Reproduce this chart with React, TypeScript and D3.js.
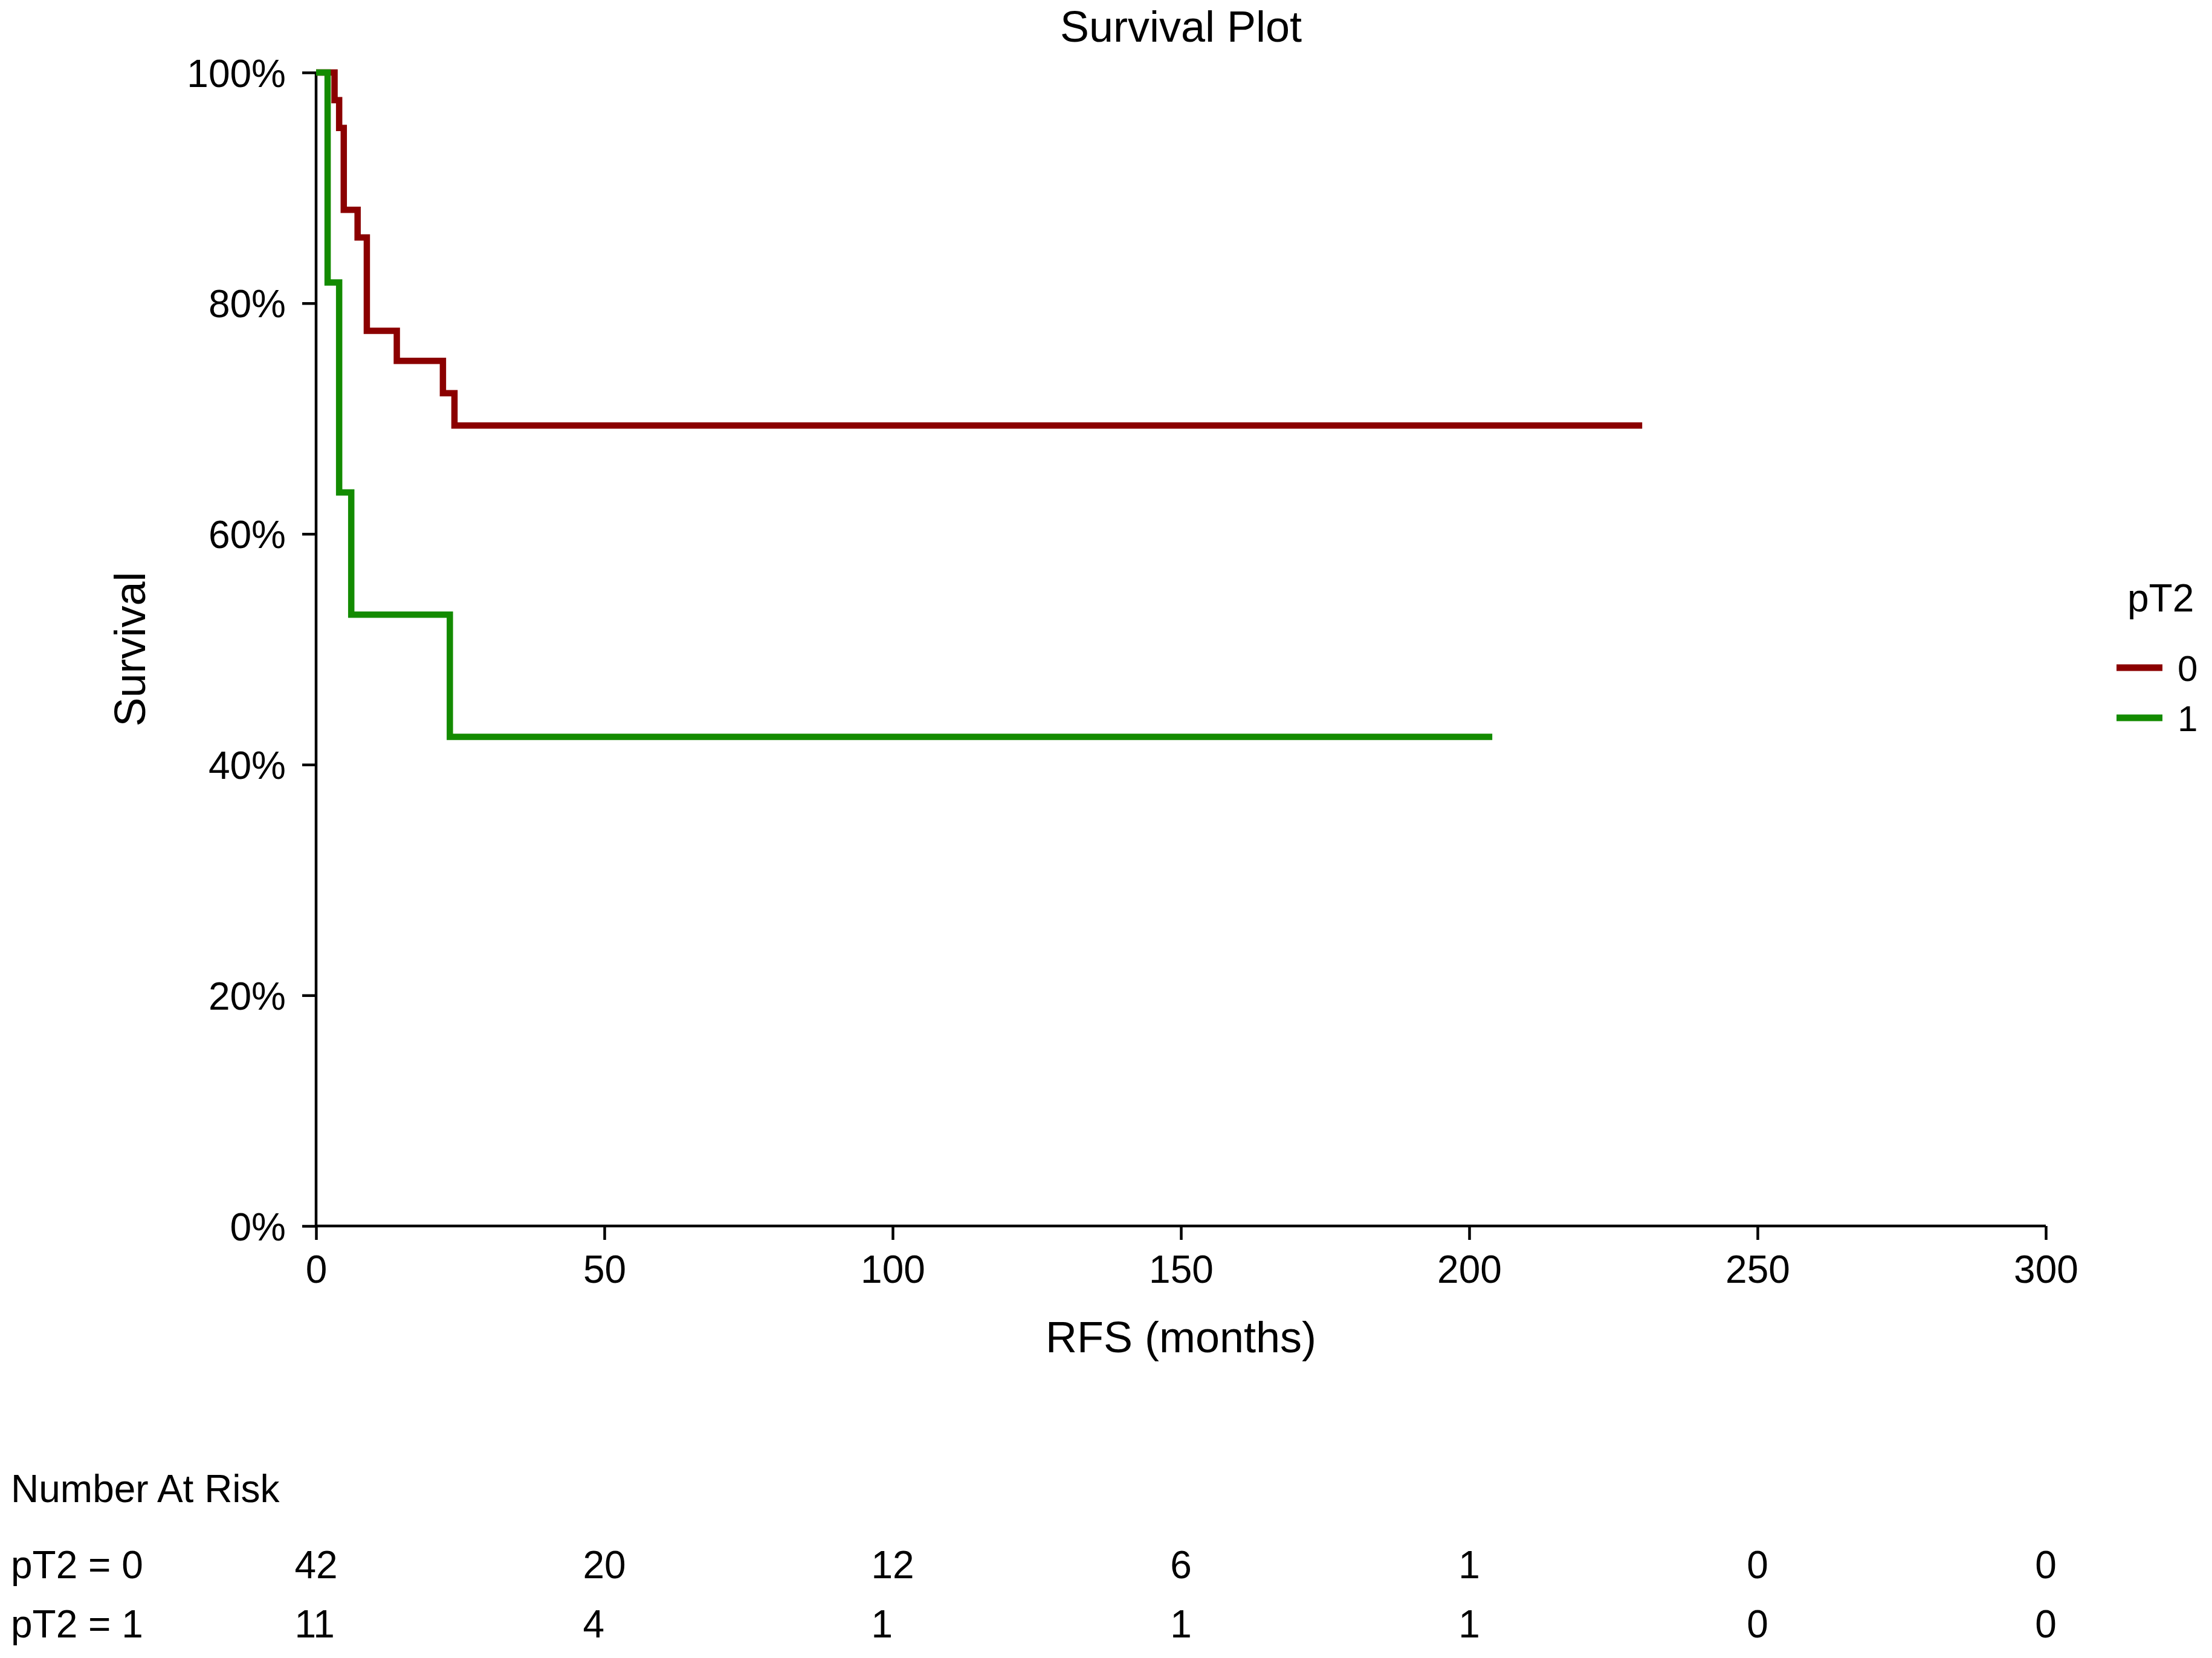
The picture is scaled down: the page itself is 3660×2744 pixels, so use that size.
import React, { useEffect, useRef } from 'react';
import * as d3 from 'd3';

// Kaplan-Meier steps (time in months, survival in %)
const groupLabels = ['0', '1'];
const groupColors = ['#8b0000', '#138b00'];

const timesG0 = [0, 3.2, 4.0, 4.8, 7.2, 8.8, 14.0, 22.0, 24.0, 230];
const survG0 = [100, 97.6, 95.2, 88.1, 85.7, 77.6, 75.0, 72.2, 69.4, 69.4];

const timesG1 = [0, 2.0, 4.0, 6.1, 23.2, 204];
const survG1 = [100, 81.8, 63.6, 53.0, 42.4, 42.4];

const xTicks = [0, 50, 100, 150, 200, 250, 300];
const yTicks = [0, 20, 40, 60, 80, 100];

const riskG0 = [42, 20, 12, 6, 1, 0, 0];
const riskG1 = [11, 4, 1, 1, 1, 0, 0];

const W = 3660;
const H = 2744;
const FONT = '"Liberation Sans", Arial, sans-serif';

const App: React.FC = () => {
  const svgRef = useRef<SVGSVGElement>(null);

  useEffect(() => {
    if (!svgRef.current) return;
    const svg = d3.select(svgRef.current);
    svg.selectAll('*').remove();

    const x = d3.scaleLinear().domain([0, 300]).range([523, 3385]);
    const y = d3.scaleLinear().domain([0, 100]).range([2029, 120]);

    svg.append('rect').attr('width', W).attr('height', H).attr('fill', '#fff');

    // title
    svg.append('text')
      .attr('x', (x(0) + x(300)) / 2).attr('y', 69)
      .attr('text-anchor', 'middle')
      .style('font-size', '72px').style('font-family', FONT)
      .text('Survival Plot');

    // y axis
    const yAxis = svg.append('g')
      .attr('transform', `translate(${x(0)},0)`)
      .call(d3.axisLeft(y).tickValues(yTicks).tickSize(23).tickPadding(27).tickFormat(d => `${d}%`));
    yAxis.select('.domain').attr('stroke-width', 4.5).attr('d', `M0,${y(0)}V${y(100)}`);
    yAxis.selectAll('.tick line').attr('stroke-width', 4.5);
    yAxis.selectAll('.tick text')
      .style('font-size', '64px').style('font-family', FONT).attr('fill', '#000').attr('dy', '0.36em');

    // x axis
    const xAxis = svg.append('g')
      .attr('transform', `translate(0,${y(0)})`)
      .call(d3.axisBottom(x).tickValues(xTicks).tickSize(23).tickPadding(25));
    xAxis.select('.domain').attr('stroke-width', 4.5).attr('d', `M${x(0)},0H${x(300)}`);
    xAxis.selectAll('.tick line').attr('stroke-width', 4.5);
    xAxis.selectAll('.tick text')
      .style('font-size', '64px').style('font-family', FONT).attr('fill', '#000').attr('dy', '0.72em');

    // axis titles
    svg.append('text')
      .attr('x', (x(0) + x(300)) / 2).attr('y', 2238)
      .attr('text-anchor', 'middle')
      .style('font-size', '72px').style('font-family', FONT)
      .text('RFS (months)');
    svg.append('text')
      .attr('transform', `translate(240,${(y(0) + y(100)) / 2}) rotate(-90)`)
      .attr('text-anchor', 'middle')
      .style('font-size', '72px').style('font-family', FONT)
      .text('Survival');

    // curves
    const line = d3.line<[number, number]>()
      .x(d => x(d[0]))
      .y(d => y(d[1]))
      .curve(d3.curveStepAfter);
    const series: [number, number][][] = [
      timesG0.map((t, i) => [t, survG0[i]]),
      timesG1.map((t, i) => [t, survG1[i]]),
    ];
    series.forEach((pts, i) => {
      svg.append('path')
        .attr('d', line(pts) || '')
        .attr('fill', 'none')
        .attr('stroke', groupColors[i])
        .attr('stroke-width', 10.5)
        .attr('stroke-linejoin', 'miter')
        .attr('stroke-linecap', 'butt');
    });

    // legend
    svg.append('text')
      .attr('x', 3520).attr('y', 1012)
      .style('font-size', '64px').style('font-family', FONT)
      .text('pT2');
    groupLabels.forEach((lab, i) => {
      const ly = 1105 + i * 83;
      svg.append('line')
        .attr('x1', 3502).attr('x2', 3578).attr('y1', ly).attr('y2', ly)
        .attr('stroke', groupColors[i]).attr('stroke-width', 11);
      svg.append('text')
        .attr('x', 3603).attr('y', ly).attr('dy', '0.36em')
        .style('font-size', '60px').style('font-family', FONT)
        .text(lab);
    });

    // number at risk table: each column is left-justified, the column block centred on its tick
    svg.append('text')
      .attr('x', 18).attr('y', 2486)
      .style('font-size', '64px').style('font-family', FONT)
      .text('Number At Risk');
    const rows = [riskG0, riskG1];
    const digitW = 0.556 * 64;
    const colWidth = xTicks.map((_, i) => d3.max(rows, r => String(r[i]).length)! * digitW);
    rows.forEach((vals, r) => {
      const ry = 2612 + r * 98;
      svg.append('text')
        .attr('x', 18).attr('y', ry)
        .style('font-size', '64px').style('font-family', FONT)
        .text(`pT2 = ${groupLabels[r]}`);
      svg.selectAll(null)
        .data(vals)
        .enter()
        .append('text')
        .attr('x', (d, i) => x(xTicks[i]) - colWidth[i] / 2)
        .attr('y', ry)
        .attr('text-anchor', 'start')
        .style('font-size', '64px').style('font-family', FONT)
        .text(d => d);
    });
  }, []);

  return (
    <svg
      ref={svgRef}
      width={W}
      height={H}
      viewBox={`0 0 ${W} ${H}`}
      style={{ position: 'absolute', left: 0, top: 0, display: 'block' }}
    />
  );
};

export default App;
